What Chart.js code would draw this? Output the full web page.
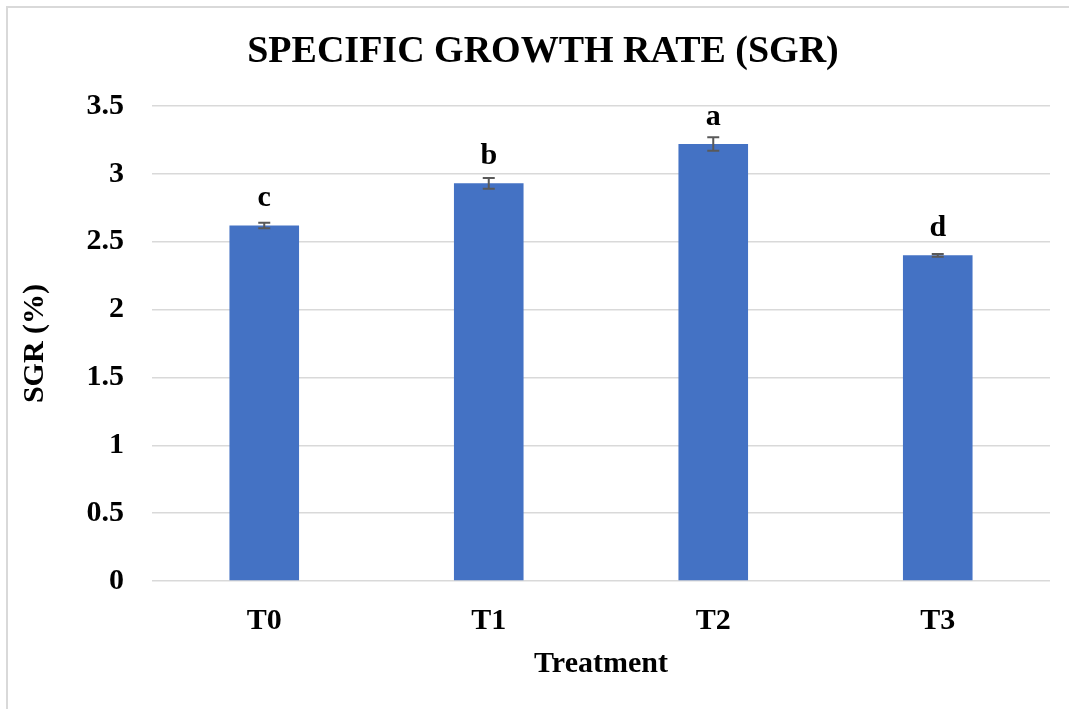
<!DOCTYPE html>
<html>
<head>
<meta charset="utf-8">
<script src="https://cdn.jsdelivr.net/npm/chart.js@4.4.1/dist/chart.umd.min.js"></script>
<style>
    html, body { margin: 0; padding: 0; background: #fff; overflow: hidden; }
    #wrap { position: relative; width: 1069px; height: 709px; }
    #frame {
        position: absolute; left: 6px; top: 6px;
        width: 1100px; height: 740px;
        border-left: 2px solid #d9d9d9; border-top: 2px solid #d9d9d9;
    }
    canvas { position: absolute; left: 0; top: 0; }
</style>
</head>
<body>
<div id="wrap">
    <div id="frame"></div>
    <canvas id="sgrChart" width="1069" height="709"></canvas>
</div>
<script>
const chartTitle = 'SPECIFIC GROWTH RATE (SGR)';
const treatments = ['T0', 'T1', 'T2', 'T3'];
const sgrValues = [2.62, 2.93, 3.22, 2.40];
const sgrErrors = [0.02, 0.04, 0.05, 0.01];
const sigLetters = ['c', 'b', 'a', 'd'];

const SERIF = "'Liberation Serif', 'Times New Roman', serif";

// title is drawn by hand so it can sit a bit right of the canvas centre, like the original
const titlePlugin = {
    id: 'sgrTitle',
    afterDraw(chart) {
        const ctx = chart.ctx;
        ctx.save();
        ctx.fillStyle = '#000';
        ctx.font = 'bold 38px ' + SERIF;
        ctx.textAlign = 'center';
        ctx.textBaseline = 'middle';
        ctx.fillText(chartTitle, 543, 52);
        ctx.restore();
    }
};

// whiskers + significance letters drawn after the bars
const errorBarPlugin = {
    id: 'errorBars',
    afterDatasetsDraw(chart) {
        const ctx = chart.ctx;
        const meta = chart.getDatasetMeta(0);
        const y = chart.scales.y;
        ctx.save();
        meta.data.forEach((bar, i) => {
            const hi = y.getPixelForValue(sgrValues[i] + sgrErrors[i]);
            const lo = y.getPixelForValue(sgrValues[i] - sgrErrors[i]);
            ctx.strokeStyle = '#595959';
            ctx.lineWidth = 2;
            ctx.beginPath();
            ctx.moveTo(bar.x, hi); ctx.lineTo(bar.x, lo);
            ctx.moveTo(bar.x - 6, hi); ctx.lineTo(bar.x + 6, hi);
            ctx.moveTo(bar.x - 6, lo); ctx.lineTo(bar.x + 6, lo);
            ctx.stroke();

            ctx.fillStyle = '#000';
            ctx.font = 'bold 30px ' + SERIF;
            ctx.textAlign = 'center';
            ctx.textBaseline = 'alphabetic';
            ctx.fillText(sigLetters[i], bar.x, bar.y - 19);
        });
        ctx.restore();
    }
};

new Chart(document.getElementById('sgrChart'), {
    type: 'bar',
    data: {
        labels: treatments,
        datasets: [{
            data: sgrValues,
            backgroundColor: '#4472c4',
            borderWidth: 0,
            barPercentage: 0.31,
            categoryPercentage: 1
        }]
    },
    options: {
        responsive: false,
        animation: false,
        layout: { padding: { left: 0, right: 19, top: 106, bottom: 0 } },
        plugins: {
            legend: { display: false },
            tooltip: { enabled: false },
            title: { display: false }
        },
        scales: {
            x: {
                grid: { display: false },
                border: { display: false },
                ticks: {
                    color: '#000',
                    font: { family: SERIF, size: 30, weight: 'bold' },
                    padding: 14
                },
                title: {
                    display: true,
                    text: 'Treatment',
                    color: '#000',
                    font: { family: SERIF, size: 30, weight: 'bold' },
                    padding: { top: 0, bottom: 27 }
                },
                afterFit(scale) { scale.height = 128; }
            },
            y: {
                min: 0,
                max: 3.5,
                grid: { color: '#d9d9d9', lineWidth: 1.5, drawTicks: false },
                border: { display: false },
                ticks: {
                    stepSize: 0.5,
                    color: '#000',
                    font: { family: SERIF, size: 30, weight: 'bold' },
                    padding: 28,
                    callback: v => String(v)
                },
                title: {
                    display: true,
                    text: 'SGR (%)',
                    color: '#000',
                    font: { family: SERIF, size: 30, weight: 'bold' },
                    padding: { top: 17, bottom: 0 }
                },
                afterFit(scale) { scale.width = 152; }
            }
        }
    },
    plugins: [errorBarPlugin, titlePlugin]
});
</script>
</body>
</html>
